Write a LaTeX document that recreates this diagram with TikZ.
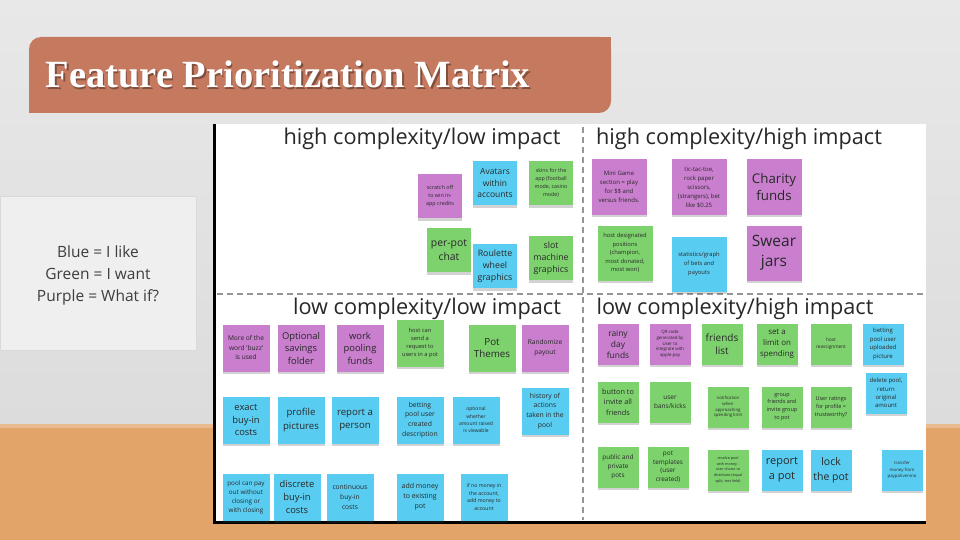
\documentclass[tikz,border=0pt]{standalone}
\usepackage{fontspec}
\setmainfont{Open Sans}
\newfontfamily\titlefont{Liberation Serif}
\usepackage{tikz}
\usetikzlibrary{shadows}
\definecolor{wallt}{RGB}{232,232,232}
\definecolor{wallb}{RGB}{220,220,220}
\definecolor{floor}{RGB}{226,164,104}
\definecolor{banner}{RGB}{197,122,96}
\definecolor{legendbg}{RGB}{239,239,239}
\definecolor{ink}{RGB}{40,40,40}
\definecolor{purplenote}{RGB}{201,126,206}
\definecolor{bluenote}{RGB}{89,205,241}
\definecolor{greennote}{RGB}{126,210,110}
\definecolor{dashgray}{RGB}{150,150,150}

\begin{document}
\begin{tikzpicture}[x=1pt,y=-1pt,
    fs/.style 2 args={font=\fontsize{#1}{#2}\selectfont},
    note/.style={fill=#1, align=center, inner sep=1pt, text=ink,
      drop shadow={shadow xshift=0pt, shadow yshift=-2.5pt, opacity=0.25, fill=black!70}},
    pnote/.style={note=purplenote},
    bnote/.style={note=bluenote},
    gnote/.style={note=greennote},
    sz41/.style={minimum size=41pt},
    sz44/.style={minimum size=44pt},
    sz47/.style={minimum size=47pt},
    sz55/.style={minimum size=55pt},
    quad/.style={fs={21.7}{25}, text=ink, anchor=base},
    headline/.style={anchor=base west, font=\titlefont\bfseries\fontsize{38.5}{42}\selectfont},
    divider/.style={draw=dashgray, line width=1.8pt, dash pattern=on 6pt off 4pt}]
  \useasboundingbox (0,0) rectangle (960,540);
  \shade[top color=wallt, bottom color=wallb] (0,0) rectangle (960,424);
  \fill[floor] (0,424) rectangle (960,540);
  \fill[floor!75!white] (0,424) rectangle (960,428);

  \fill[banner, rounded corners=12pt] (29,37) rectangle (611,113);
  \fill[banner] (590,37) rectangle (611,60);
  \fill[banner] (29,90) rectangle (52,113);
  \node[headline, text=black, opacity=0.35] at (43.5,89.5) {Feature Prioritization Matrix};
  \node[headline, text=white] (title) at (42,88) {Feature Prioritization Matrix};

  \draw[draw=black!15, fill=legendbg] (0,196) rectangle (196,350);
  \node[fs={15.5}{22}, text=ink!90, align=center] (legend) at (98,275) {Blue = I like\\Green = I want\\Purple = What if?};

  \fill[white] (213,124) rectangle (926,522);
  \draw[black, line width=3pt] (214.5,124) -- (214.5,522) -- (926,522);
  \coordinate (vtop) at (583,127);
  \coordinate (vbot) at (583,520);
  \coordinate (hleft) at (217,294);
  \coordinate (hright) at (926,294);
  \draw[divider] (vtop) -- (vbot);
  \draw[divider] (hleft) -- (hright);

  \node[quad] (hclow) at (422,145) {high complexity/low impact};
  \node[quad] (hchigh) at (739,145) {high complexity/high impact};
  \node[quad] (lclow) at (427,314) {low complexity/low impact};
  \node[quad] (lchigh) at (735,314) {low complexity/high impact};

  \node[pnote, sz44, fs={5.4}{8}] (scratch) at (440,196) {scratch off\\to win in-\\app credits};
  \node[bnote, sz44, fs={8.5}{11.5}] (avatars) at (495,183) {Avatars\\within\\accounts};
  \node[gnote, sz44, fs={5.3}{7.8}] (skins) at (551,183) {skins for the\\app (football\\mode, casino\\mode)};
  \node[gnote, sz44, fs={10.4}{13.5}] (perpot) at (449,250) {per-pot\\chat};
  \node[bnote, sz44, fs={8.8}{12}] (roulette) at (495,266) {Roulette\\wheel\\graphics};
  \node[gnote, sz44, fs={8.8}{12}] (slot) at (551,258) {slot\\machine\\graphics};

  \node[pnote, sz55, fs={6}{9}] (minigame) at (619,187) {Mini Game\\section = play\\for \$\$ and\\versus friends.};
  \node[pnote, sz55, fs={6}{9}] (tictac) at (699,187) {tic-tac-toe,\\rock paper\\scissors,\\(strangers), bet\\like \$0.25};
  \node[pnote, sz55, fs={13.3}{17}] (charity) at (774,187) {Charity\\funds};
  \node[gnote, sz55, fs={5.8}{8.6}] (hostpos) at (625,253) {host designated\\positions\\(champion,\\most donated,\\most won)};
  \node[bnote, sz55, fs={5.8}{8.6}] (stats) at (699,264) {statistics/graph\\of bets and\\payouts};
  \node[pnote, sz55, fs={15.5}{20}] (swear) at (774,253) {Swear\\jars};

  \node[pnote, sz47, fs={6.6}{9.5}] (buzz) at (246,348) {More of the\\word 'buzz'\\is used};
  \node[pnote, sz47, fs={9.4}{12.5}] (savings) at (301,348) {Optional\\savings\\folder};
  \node[pnote, sz47, fs={9.4}{12.5}] (workpool) at (360,348) {work\\pooling\\funds};
  \node[gnote, sz47, fs={5.7}{8.3}] (hostreq) at (420,343) {host can\\send a\\request to\\users in a pot};
  \node[gnote, sz47, fs={9.8}{12.5}] (themes) at (492,348) {Pot\\Themes};
  \node[pnote, sz47, fs={6.6}{9.5}] (randomize) at (545,348) {Randomize\\payout};

  \node[bnote, sz47, fs={9.4}{12.7}] (exact) at (246,420) {exact\\buy-in\\costs};
  \node[bnote, sz47, fs={9.6}{13.3}] (profile) at (301,420) {profile\\pictures};
  \node[bnote, sz47, fs={9.6}{13.3}] (reportperson) at (355,420) {report a\\person};
  \node[bnote, sz47, fs={6.8}{9.7}] (pooldesc) at (420,420) {betting\\pool user\\created\\description};
  \node[bnote, sz47, fs={5}{7.3}] (viewable) at (476,420) {optional\\whether\\amount raised\\is viewable};
  \node[bnote, sz47, fs={6.8}{9.7}] (history) at (545,411) {history of\\actions\\taken in the\\pool};
  \node[bnote, sz47, fs={6.3}{9}] (payout) at (246,497) {pool can pay\\out without\\closing or\\with closing};
  \node[bnote, sz47, fs={9.4}{13}] (discrete) at (297,497) {discrete\\buy-in\\costs};
  \node[bnote, sz47, fs={6.7}{10}] (continuous) at (350,497) {continuous\\buy-in\\costs};
  \node[bnote, sz47, fs={7}{10}] (addmoney) at (420,497) {add money\\to existing\\pot};
  \node[bnote, sz47, fs={5.2}{7.5}] (nomoney) at (484,497) {if no money in\\the account,\\add money to\\account};

  \node[pnote, sz41, fs={8.4}{11}] (rainy) at (618,344) {rainy\\day\\funds};
  \node[pnote, sz41, fs={4.4}{5.6}] (qrcode) at (670,344) {QR code\\generated by\\User to\\integrate with\\apple pay};
  \node[gnote, sz41, fs={10}{13.3}] (friends) at (722,344) {friends\\list};
  \node[gnote, sz41, fs={7.9}{10.7}] (limit) at (777,344) {set a\\limit on\\spending};
  \node[gnote, sz41, fs={4.7}{7.5}] (hostre) at (831,344) {host\\reassignment};
  \node[bnote, sz41, fs={6}{8.6}] (uploaded) at (883,344) {betting\\pool user\\uploaded\\picture};
  \node[gnote, sz41, fs={7.3}{10.3}] (invite) at (618,402) {button to\\invite all\\friends};
  \node[gnote, sz41, fs={6.5}{9.3}] (bans) at (670,402) {user\\bans/kicks};
  \node[gnote, sz41, fs={4.3}{5.8}] (notify) at (728,407) {notification\\when\\approaching\\spending limit};
  \node[gnote, sz41, fs={5.5}{7.8}] (group) at (782,407) {group\\friends and\\invite group\\to pot};
  \node[gnote, sz41, fs={5.5}{7.8}] (ratings) at (831,407) {User ratings\\for profile =\\trustworthy?};
  \node[bnote, sz41, fs={6}{8.4}] (delete) at (886,393) {delete pool,\\return\\original\\amount};
  \node[gnote, sz41, fs={6.4}{9.2}] (public) at (618,467) {public and\\private\\pots};
  \node[gnote, sz41, fs={6.4}{8.6}] (templates) at (668,467) {pot\\templates\\(user\\created)};
  \node[gnote, sz41, fs={3.7}{5.9}] (resolve) at (728,470) {resolve pool\\with money -\\user choice to\\distribute (equal\\split, text field)};
  \node[bnote, sz41, fs={11}{14.8}] (reportpot) at (782,470) {report\\a pot};
  \node[bnote, sz41, fs={10.5}{14.8}] (lock) at (831,470) {lock\\the pot};
  \node[bnote, sz41, fs={4.3}{6.2}] (transfer) at (902,470) {transfer\\money from\\paypal/venmo};
\end{tikzpicture}
\end{document}
